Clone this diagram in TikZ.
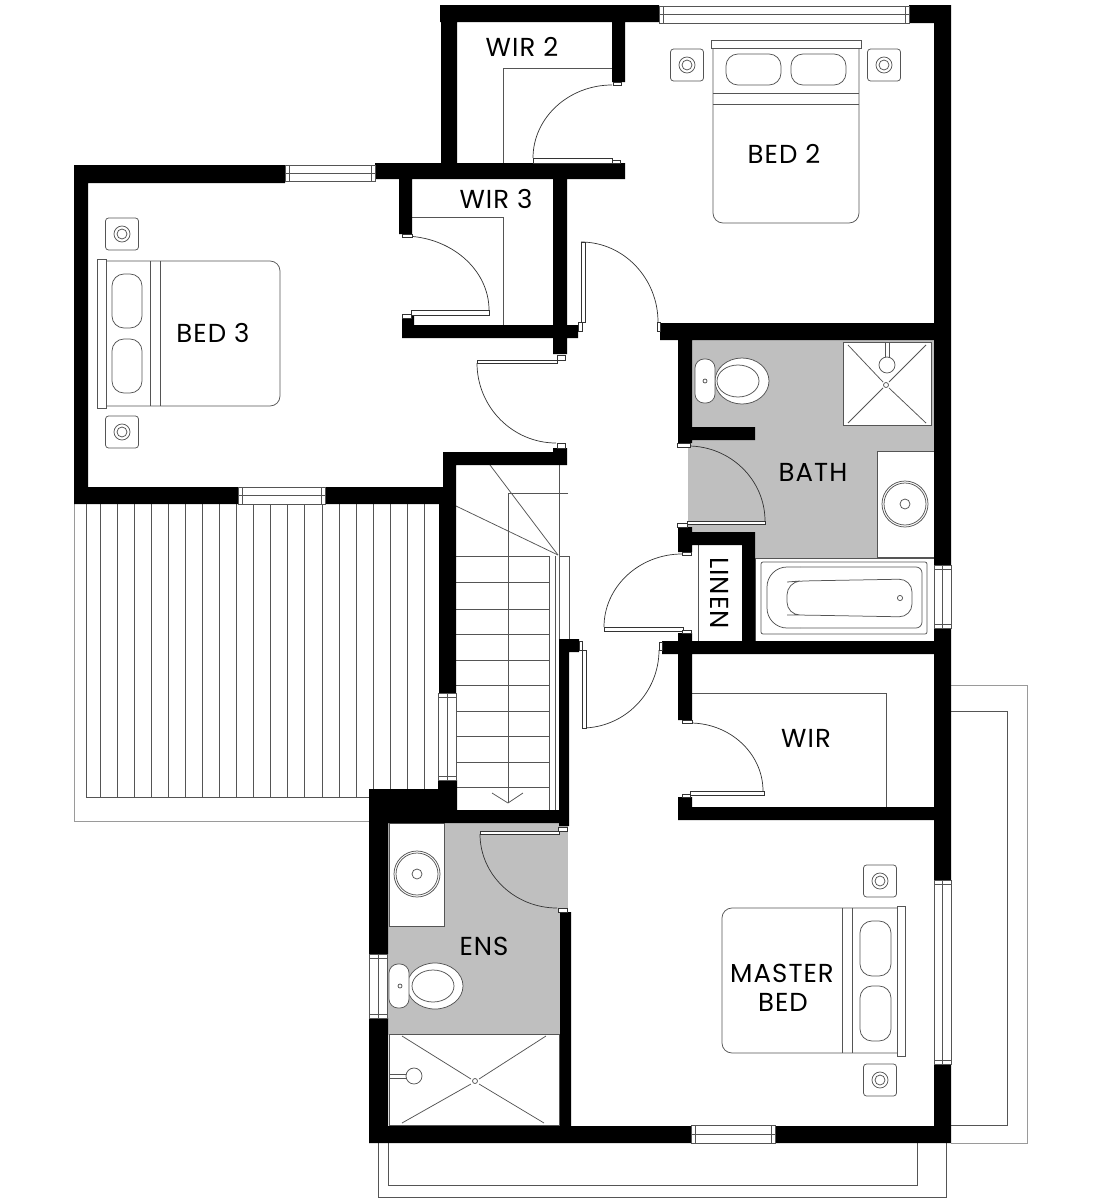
\documentclass[tikz,border=0pt]{standalone}
\usepackage{fontspec}
\setmainfont{Poppins}[LetterSpace=4]
\usetikzlibrary{calc}
\definecolor{floorgrey}{HTML}{BFBFBF}
\definecolor{linegrey}{HTML}{555555}
\definecolor{palegrey}{HTML}{9A9A9A}
\tikzset{
  thinline/.style={draw=linegrey,line width=0.75pt},
  paleline/.style={draw=palegrey,line width=0.8pt},
  doorline/.style={draw=black!80,line width=0.7pt},
  fixture/.style={draw=linegrey,line width=0.75pt,fill=white},
  wallfill/.style={fill=black},
  label/.style={font=\fontsize{26}{30}\selectfont,text=black,inner sep=0pt,align=center}
}
% horizontal window
\newcommand\winH[4]{%
  \draw[fixture] (#1,#2) rectangle (#3,#4);
  \draw[fixture] (#1,#2) rectangle ($(#1,#4)+(4,0)$);
  \draw[fixture] ($(#3,#2)-(4,0)$) rectangle (#3,#4);
  \draw[thinline] ($(#1,#2)!.5!(#1,#4)$) -- ($(#3,#2)!.5!(#3,#4)$);}
% vertical window
\newcommand\winV[4]{%
  \draw[fixture] (#1,#2) rectangle (#3,#4);
  \draw[fixture] (#1,#2) rectangle ($(#3,#2)+(0,4)$);
  \draw[fixture] ($(#1,#4)-(0,4)$) rectangle (#3,#4);
  \draw[thinline] ($(#1,#2)!.5!(#3,#2)$) -- ($(#1,#4)!.5!(#3,#4)$);}
% door swing: leaves horizontally, arrives vertically
\newcommand\arcHV[4]{\draw[doorline] (#1,#2) .. controls ($(#1,#2)!.55!(#3,#2)$) and ($(#3,#4)!.55!(#3,#2)$) .. (#3,#4);}
% door swing: leaves vertically, arrives horizontally
\newcommand\arcVH[4]{\draw[doorline] (#1,#2) .. controls ($(#1,#2)!.55!(#1,#4)$) and ($(#3,#4)!.55!(#1,#4)$) .. (#3,#4);}
\newcommand\leafbox[4]{\draw[doorline,fill=white] (#1,#2) rectangle (#3,#4);}
\newcommand\nightstand[2]{%
  \draw[fixture,rounded corners=3pt] ($(#1,#2)-(16.5,16)$) rectangle ($(#1,#2)+(16.5,16)$);
  \draw[thinline] (#1,#2) circle (8);
  \draw[thinline] (#1,#2) circle (5);}
\newcommand\basin[2]{%
  \draw[fixture] (#1,#2) circle (23);
  \draw[thinline] (#1,#2) circle (21);
  \draw[thinline] (#1,#2) circle (5);}
\begin{document}
\begin{tikzpicture}[x=1pt,y=-1pt]
\useasboundingbox (0,0) rectangle (1100,1202);
\fill[white] (0,0) rectangle (1100,1202);

% balconies
\draw[paleline] (951,685) -- (1027,685) -- (1027,1143) -- (951,1143);
\draw[thinline] (951,711) -- (1007,711) -- (1007,1125) -- (951,1125);
\draw[thinline] (378,1143) -- (378,1197) -- (946,1197) -- (946,1143);
\draw[thinline] (388,1143) -- (388,1185) -- (917,1185) -- (917,1143);

% deck
\draw[paleline] (74,504) -- (74,821) -- (370,821);
\draw[thinline] (86,504) -- (86,797) -- (370,797);
\foreach \k in {0,...,19} {
  \pgfmathsetmacro\sx{100+17.07*\k}
  \draw[thinline] (\sx,504) -- (\sx,797);
}

% stairs
\foreach \ty in {556,582,609,634,660,685,711,736,762,787}
  \draw[thinline] (456,\ty) -- (549,\ty);
\draw[thinline] (549,556) -- (549,810);
\draw[thinline] (555,556) -- (555,810);
\draw[thinline] (559,465) -- (559,640);
\draw[thinline] (559,556) -- (569,556) -- (569,640);
\draw[thinline] (568,493) -- (508,493) -- (508,803);
\draw[thinline] (492,793) -- (508,803) -- (523,793);
\draw[thinline] (490,465) -- (558,555);
\draw[thinline] (456,506) -- (558,555);

% wet-area floors
\fill[floorgrey] (692,340) -- (934,340) -- (934,558) -- (755,558) -- (755,532) -- (688,532) -- (688,440) -- (692,440) -- cycle;
\fill[floorgrey] (388,823) rectangle (568,912);
\fill[floorgrey] (388,912) rectangle (560,1035);

% robes
\draw[thinline] (612,68) -- (503,68) -- (503,165);
\draw[thinline] (412,217) -- (503,217) -- (503,325);
\draw[thinline] (692,693) -- (886,693) -- (886,807);
\draw[thinline] (698,545) -- (698,641);

% bed 2
\draw[fixture,rounded corners=10pt] (713,48) -- (713,223) -- (859,223) -- (859,48);
\draw[thinline] (713,93) -- (859,93);
\draw[thinline] (713,104) -- (859,104);
\draw[fixture] (711,40) rectangle (861,48);
\draw[fixture,rounded corners=12pt] (726,54) rectangle (781,85);
\draw[fixture,rounded corners=12pt] (791,54) rectangle (846,85);
\nightstand{687}{65}
\nightstand{884}{65}

% bed 3
\draw[fixture,rounded corners=10pt] (105,261) -- (280,261) -- (280,406) -- (105,406);
\draw[thinline] (150,261) -- (150,406);
\draw[thinline] (160,261) -- (160,406);
\draw[fixture] (97,259) rectangle (106,408);
\draw[fixture,rounded corners=12pt] (112,274) rectangle (142,328);
\draw[fixture,rounded corners=12pt] (112,339) rectangle (142,393);
\nightstand{122}{234}
\nightstand{122}{432}

% master bed
\draw[fixture,rounded corners=10pt] (897,908) -- (722,908) -- (722,1053) -- (897,1053);
\draw[thinline] (842,908) -- (842,1053);
\draw[thinline] (852,908) -- (852,1053);
\draw[fixture] (897,906) rectangle (905,1056);
\draw[fixture,rounded corners=12pt] (860,921) rectangle (891,976);
\draw[fixture,rounded corners=12pt] (860,986) rectangle (891,1041);
\nightstand{880}{881}
\nightstand{880}{1080}

% bath fixtures
\draw[fixture] (843,342) rectangle (931,425);
\draw[thinline] (848,345) -- (883,382);
\draw[thinline] (926,345) -- (889,382);
\draw[thinline] (848,423) -- (883,388);
\draw[thinline] (926,423) -- (889,388);
\draw[thinline] (886,385) circle (2.5);
\draw[fixture] (885,342) rectangle (889,357);
\draw[fixture] (887,365) circle (8);
\draw[fixture] (877,451) rectangle (934,557);
\basin{905}{504}
\draw[fixture] (755,558) rectangle (934,641);
\draw[fixture,rounded corners=2pt] (761,562) rectangle (927,634);
\draw[thinline,rounded corners=20pt] (800,567) -- (767,567) -- (767,628) -- (800,628);
\draw[thinline,rounded corners=6pt] (800,567) -- (922,567) -- (922,628) -- (800,628);
\draw[thinline,rounded corners=13pt] (800,581) -- (787,582) -- (787,615) -- (800,615) -- (912,617) -- (912,579) -- cycle;
\draw[thinline] (900,598) circle (2.6);
\draw[fixture] (742,381) ellipse (27 and 23);
\draw[thinline] (738,381) ellipse (21 and 16);
\draw[fixture,rounded corners=9pt] (695,359) rectangle (715,403);
\draw[thinline] (705,381) circle (2);

% ensuite fixtures
\draw[fixture] (389,823) rectangle (444,926);
\basin{417}{874}
\draw[fixture] (435,986) ellipse (28 and 23);
\draw[thinline] (433,986) ellipse (21 and 16);
\draw[fixture,rounded corners=9pt] (389,964) rectangle (409,1008);
\draw[thinline] (400,986) circle (2);
\draw[fixture] (389,1034) rectangle (559,1125);
\draw[thinline] (402,1036) -- (471,1079);
\draw[thinline] (546,1036) -- (479,1079);
\draw[thinline] (402,1123) -- (471,1084);
\draw[thinline] (544,1123) -- (479,1084);
\draw[thinline] (475,1081) circle (2.5);
\draw[fixture] (389,1074) rectangle (406,1078);
\draw[fixture] (414,1076) circle (8);

% walls
\fill[wallfill]
  (440,5) rectangle (659,22)
  (909,5) rectangle (951,23)
  (441,5) rectangle (457,165)
  (612,22) rectangle (625,82)
  (375,163) rectangle (625,179)
  (74,165) rectangle (285,183)
  (74,165) rectangle (88,504)
  (74,487) rectangle (238,504)
  (325,487) rectangle (456,504)
  (399,179) rectangle (412,234)
  (553,179) rectangle (567,354)
  (402,325) rectangle (578,338)
  (402,316) rectangle (414,325)
  (443,452) rectangle (567,465)
  (553,448) rectangle (567,465)
  (443,452) rectangle (456,490)
  (439,487) rectangle (456,693)
  (438,780) rectangle (457,823)
  (369,789) rectangle (457,823)
  (369,810) rectangle (560,823)
  (369,789) rectangle (388,954)
  (369,1018) rectangle (388,1143)
  (369,1126) rectangle (691,1143)
  (775,1126) rectangle (951,1143)
  (559,639) rectangle (569,826)
  (559,639) rectangle (579,652)
  (560,912) rectangle (571,1127)
  (934,5) rectangle (951,565)
  (934,628) rectangle (951,880)
  (934,1063) rectangle (951,1143)
  (660,323) rectangle (934,340)
  (678,340) rectangle (692,443)
  (678,427) rectangle (755,440)
  (678,527) rectangle (692,552)
  (678,532) rectangle (755,545)
  (742,532) rectangle (755,641)
  (662,641) rectangle (934,654)
  (678,633) rectangle (692,720)
  (678,807) rectangle (934,820)
  (678,797) rectangle (692,820);

% windows
\winH{659}{6}{909}{23}
\winH{285}{165}{375}{181}
\winH{238}{487}{325}{504}
\winH{691}{1125}{775}{1143}
\winV{934}{565}{951}{628}
\winV{934}{880}{951}{1064}
\winV{438}{693}{456}{780}
\winV{369}{954}{387}{1018}

% doors
\arcHV{612}{85}{533}{158}
\leafbox{533}{158}{612}{163}
\leafbox{612}{160}{620}{163}
\leafbox{613}{82}{621}{85}
\arcHV{403}{236}{489}{310}
\leafbox{411}{310}{489}{315}
\leafbox{402}{234}{412}{237}
\leafbox{402}{314}{411}{318}
\arcHV{581}{242}{658}{322}
\leafbox{581}{242}{585}{322}
\leafbox{578}{322}{582}{331}
\leafbox{657}{322}{660}{331}
\arcVH{477}{363}{556}{443}
\leafbox{477}{360}{557}{363}
\leafbox{557}{355}{565}{360}
\leafbox{557}{443}{565}{448}
\arcHV{688}{446}{765}{521}
\leafbox{687}{521}{765}{524}
\leafbox{677}{523}{687}{527}
\leafbox{677}{443}{690}{447}
\arcVH{604}{627}{682}{554}
\leafbox{604}{627}{683}{631}
\leafbox{682}{630}{691}{633}
\leafbox{682}{552}{691}{555}
\arcHV{582}{728}{659}{650}
\leafbox{582}{650}{586}{728}
\leafbox{579}{641}{582}{650}
\leafbox{659}{642}{662}{650}
\arcHV{690}{723}{763}{791}
\leafbox{690}{791}{764}{795}
\leafbox{682}{794}{690}{797}
\leafbox{682}{720}{692}{723}
\arcVH{480}{834}{557}{908}
\leafbox{480}{831}{559}{834}
\leafbox{558}{827}{567}{831}
\leafbox{558}{908}{567}{912}

% labels
\node[label] (wirtwo) at (522,47) {WIR 2};
\node[label] (bedtwo) at (784,154) {BED 2};
\node[label] (wirthree) at (496,199) {WIR 3};
\node[label] (bedthree) at (213,333) {BED 3};
\node[label] (bath) at (813,472) {BATH};
\node[label,rotate=-90] (linen) at (719.5,593) {LINEN};
\node[label] (wir) at (806,738) {WIR};
\node[label] (master) at (782,973) {MASTER};
\node[label] (masterbed) at (783,1002) {BED};
\node[label] (ens) at (484,946) {ENS};
\end{tikzpicture}
\end{document}
